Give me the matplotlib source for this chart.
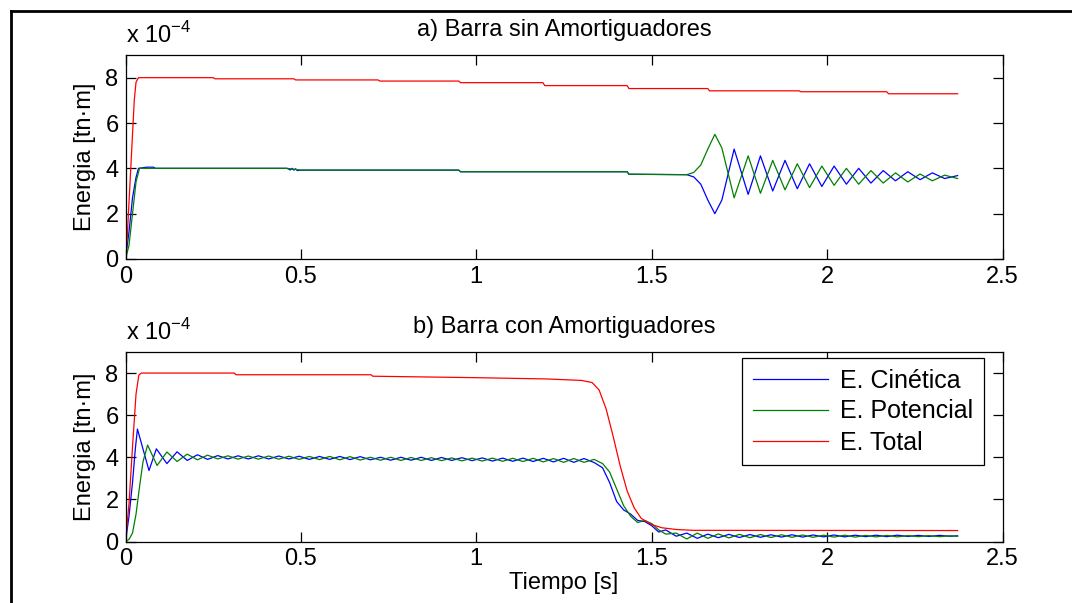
import numpy as np
import matplotlib
matplotlib.use("Agg")
import matplotlib.pyplot as plt
from matplotlib.lines import Line2D

plt.rcParams['font.family'] = ['Liberation Sans', 'DejaVu Sans']
plt.rcParams['mathtext.fontset'] = 'custom'
plt.rcParams['mathtext.rm'] = 'Liberation Sans'

labels = ['E. Cinética', 'E. Potencial', 'E. Total']
colors = ['#0000ff', '#008000', '#ff0000']
FS = 17

# ---- a) Barra sin Amortiguadores  (energy in units of 1e-4 tn·m)
ta_tot = [0, 0.005, 0.01, 0.015, 0.02, 0.025, 0.03, 0.037, 0.25, 0.255, 0.48, 0.485,
          0.72, 0.725, 0.95, 0.955, 1.19, 1.195, 1.43, 1.435, 1.66, 1.665, 1.92, 1.925,
          2.17, 2.175, 2.372]
ea_tot = [0, 1.0, 2.5, 4.0, 5.5, 7.0, 7.8, 8.0, 8.0, 7.95, 7.95, 7.9,
          7.9, 7.85, 7.85, 7.78, 7.78, 7.65, 7.65, 7.52, 7.52, 7.42, 7.42, 7.38,
          7.38, 7.29, 7.29]

ta_cin = [0, 0.01, 0.02, 0.03, 0.037, 0.06, 0.08, 0.085, 0.46, 0.47, 0.475, 0.48,
          0.485, 0.49, 0.5, 0.95, 0.955, 1.43, 1.435, 1.60, 1.62, 1.64, 1.66,
          1.68, 1.70, 1.735, 1.775, 1.81, 1.845, 1.88, 1.915, 1.95, 1.985, 2.02, 2.055,
          2.09, 2.125, 2.16, 2.195, 2.23, 2.265, 2.30, 2.335, 2.372]
ea_cin = [0, 1.2, 2.7, 3.6, 4.0, 4.05, 4.05, 4.0, 4.0, 3.93, 4.0, 3.92,
          3.98, 3.9, 3.92, 3.92, 3.85, 3.85, 3.74, 3.72, 3.62, 3.3, 2.6,
          2.0, 2.6, 4.85, 2.85, 4.55, 3.0, 4.35, 3.1, 4.2, 3.2, 4.1, 3.3,
          4.0, 3.35, 3.9, 3.45, 3.85, 3.5, 3.8, 3.55, 3.68]

ta_pot = [0, 0.01, 0.02, 0.03, 0.04, 0.06, 0.46, 0.5, 0.95, 0.955, 1.43, 1.435, 1.60,
          1.62, 1.64, 1.66, 1.68, 1.70, 1.735, 1.775, 1.81, 1.845, 1.88, 1.915, 1.95,
          1.985, 2.02, 2.055, 2.09, 2.125, 2.16, 2.195, 2.23, 2.265, 2.30, 2.335, 2.372]
ea_pot = [0, 0.6, 2.0, 3.4, 4.0, 4.0, 4.0, 3.92, 3.92, 3.85, 3.85, 3.74, 3.72,
          3.82, 4.15, 4.85, 5.5, 4.9, 2.7, 4.55, 2.9, 4.35, 3.05, 4.2, 3.15,
          4.1, 3.25, 4.0, 3.3, 3.9, 3.35, 3.8, 3.4, 3.75, 3.45, 3.7, 3.55]

# ---- b) Barra con Amortiguadores
tb_tot = [0, 0.01, 0.02, 0.03, 0.038, 0.045, 0.31, 0.315, 0.70, 0.705, 1.0, 1.2,
          1.30, 1.33, 1.35, 1.37, 1.39, 1.41, 1.43, 1.45, 1.47, 1.50, 1.53, 1.57,
          1.62, 2.372]
eb_tot = [0, 1.8, 4.5, 7.0, 7.9, 8.0, 8.0, 7.92, 7.92, 7.85, 7.78, 7.72,
          7.65, 7.55, 7.2, 6.3, 5.0, 3.6, 2.4, 1.6, 1.1, 0.8, 0.65, 0.57,
          0.53, 0.52]

tb_osc = [0.292, 0.321, 0.35, 0.379, 0.408, 0.437, 0.466, 0.495, 0.524, 0.553,
          0.582, 0.611, 0.64, 0.669, 0.698, 0.727, 0.756, 0.785, 0.814, 0.843,
          0.872, 0.901, 0.93, 0.959, 0.988, 1.017, 1.046, 1.075, 1.104, 1.133,
          1.162, 1.191, 1.22, 1.249, 1.278, 1.307, 1.336]
tb_tail = [1.36, 1.38, 1.40, 1.42, 1.44, 1.46, 1.48, 1.50, 1.52, 1.54, 1.57, 1.60,
           1.63, 1.66, 1.69, 1.72, 1.75, 1.78, 1.81, 1.84, 1.87, 1.90, 1.93, 1.96,
           1.99, 2.02, 2.05, 2.08, 2.11, 2.14, 2.17, 2.20, 2.23, 2.26, 2.29, 2.32,
           2.35, 2.372]

tb_cin = [0, 0.01, 0.02, 0.028, 0.034, 0.067, 0.088, 0.118, 0.147, 0.176, 0.205,
          0.234, 0.263] + tb_osc + tb_tail
eb_cin = [0, 1.2, 2.8, 4.4, 5.34, 3.37, 4.40, 3.70, 4.26, 3.85, 4.12,
          3.90, 4.08,
          3.92, 4.07, 3.92, 4.07, 3.92, 4.06, 3.92, 4.05, 3.90, 4.04,
          3.90, 4.04, 3.89, 4.03, 3.88, 4.00, 3.86, 4.00, 3.86, 4.00,
          3.85, 3.99, 3.85, 3.98, 3.84, 3.97, 3.82, 3.96, 3.81, 3.96,
          3.80, 3.95, 3.78, 3.95, 3.76, 3.94, 3.75,
          3.5, 2.8, 1.9, 1.5, 1.3, 1.0, 0.95, 0.75, 0.45, 0.55, 0.25, 0.40,
          0.15, 0.35, 0.18, 0.34, 0.19, 0.33, 0.20, 0.32, 0.21, 0.32, 0.21, 0.31,
          0.22, 0.31, 0.22, 0.30, 0.23, 0.30, 0.23, 0.30, 0.24, 0.29, 0.24, 0.29,
          0.25, 0.27]

tb_pot = [0, 0.01, 0.02, 0.03, 0.04, 0.05, 0.063, 0.09, 0.118, 0.147, 0.176, 0.205,
          0.234, 0.263] + tb_osc + tb_tail
eb_pot = [0, 0.1, 0.4, 1.3, 2.6, 3.8, 4.58, 3.61, 4.25, 3.80, 4.15, 3.88,
          4.10, 3.92,
          4.07, 3.91, 4.06, 3.91, 4.06, 3.91, 4.05, 3.90, 4.04, 3.89,
          4.04, 3.88, 4.03, 3.87, 4.00, 3.86, 4.00, 3.85, 3.99, 3.85,
          3.98, 3.84, 3.97, 3.83, 3.96, 3.82, 3.96, 3.81, 3.95, 3.80,
          3.95, 3.78, 3.94, 3.76, 3.94, 3.76, 3.90,
          3.7, 3.3, 2.5, 1.7, 1.2, 0.9, 1.0, 0.85, 0.55, 0.35, 0.40, 0.12,
          0.40, 0.15, 0.36, 0.17, 0.34, 0.18, 0.33, 0.19, 0.32, 0.20, 0.31, 0.20,
          0.30, 0.21, 0.30, 0.21, 0.29, 0.22, 0.29, 0.22, 0.28, 0.23, 0.28, 0.23,
          0.27, 0.25]

W, H = 1072, 603
fig = plt.figure(figsize=(W / 100, H / 100), dpi=100)
fig.patch.set_facecolor('white')

def box(l, t, r, b):
    return [l / W, 1 - b / H, (r - l) / W, (b - t) / H]

ax1 = fig.add_axes(box(125.5, 55, 1002.5, 259))
ax2 = fig.add_axes(box(125.5, 352, 1002.5, 541.5))

panels = [
    (ax1, 'a) Barra sin Amortiguadores',
     [(ta_cin, ea_cin), (ta_pot, ea_pot), (ta_tot, ea_tot)]),
    (ax2, 'b) Barra con Amortiguadores',
     [(tb_cin, eb_cin), (tb_pot, eb_pot), (tb_tot, eb_tot)]),
]

for ax, title, series in panels:
    for (t, e), c, lab in zip(series, colors, labels):
        ax.plot(t, e, color=c, lw=0.9, label=lab)
    ax.set_xlim(0, 2.5)
    ax.set_ylim(0, 9)
    ax.set_xticks([0, 0.5, 1, 1.5, 2, 2.5])
    ax.set_xticklabels(['0', '0.5', '1', '1.5', '2', '2.5'])
    ax.set_yticks([0, 2, 4, 6, 8])
    ax.tick_params(direction='in', top=True, right=True, length=7, width=0.9,
                   labelsize=FS, pad=5)
    for s in ax.spines.values():
        s.set_linewidth(0.9)
    ax.set_title(title, fontsize=FS, pad=14)
    ax.set_ylabel('Energia [tn·m]', fontsize=FS, labelpad=7)
    ax.text(0, 1.035, r'x 10$^{-4}$', transform=ax.transAxes, fontsize=FS,
            ha='left', va='bottom')

ax2.set_xlabel('Tiempo [s]', fontsize=FS, labelpad=1)

leg = ax2.legend(loc='upper right', bbox_to_anchor=(984 / W, 1 - 358 / H),
                 bbox_transform=fig.transFigure, borderaxespad=0, fancybox=False,
                 edgecolor='black', framealpha=1, fontsize=18, handlelength=3.0,
                 labelspacing=0.28, borderpad=0.42, handletextpad=0.5)
leg.get_frame().set_linewidth(0.9)

# frame of the original page
fig.add_artist(Line2D([11 / W, 1], [1 - 11 / H, 1 - 11 / H], color='black', lw=2))
fig.add_artist(Line2D([11 / W, 11 / W], [0, 1 - 11 / H], color='black', lw=2))

fig.savefig('out.png', dpi=100)
